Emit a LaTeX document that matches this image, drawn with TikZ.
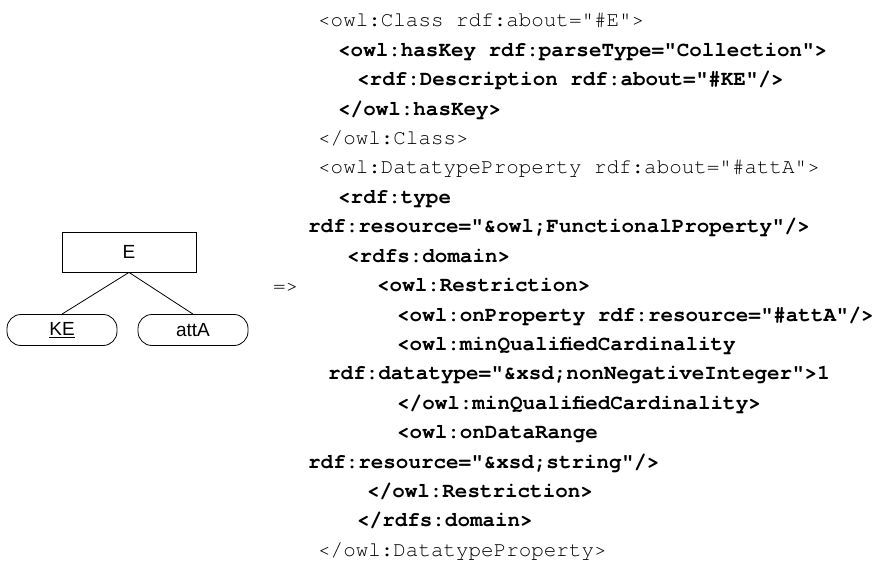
\documentclass[tikz,border=0pt]{standalone}
\usepackage{fontspec}
\setmainfont{Liberation Sans}
\setmonofont{TeX Gyre Cursor}
\begin{document}
\begin{tikzpicture}[x=1pt,y=-1pt,
	code/.style={anchor=west,inner sep=0pt,text height=14pt,text depth=4pt,font=\ttfamily\fontsize{20.9}{21}\selectfont},
	bcode/.style={code,font=\ttfamily\bfseries\fontsize{20.9}{21}\selectfont},
	entbox/.style={draw,line width=.8pt,minimum width=134pt,minimum height=40pt,inner sep=0pt,font=\fontsize{19}{19}\selectfont},
	attrbox/.style={draw,line width=.8pt,rounded corners=14pt,minimum width=110pt,minimum height=31pt,inner sep=0pt,font=\fontsize{19}{19}\selectfont}]
	\useasboundingbox (0,0) rectangle (880,585);
	% ER fragment
	\node[entbox] (E) at (129,252) {E};
	\node[attrbox] (KE) at (62,330) {\underline{KE}};
	\node[attrbox] (attA) at (193,330) {attA};
	\draw[line width=.8pt] (E.south)--(KE.north)
	(E.south)--(attA.north);
	\node[code] (arrow) at (273,287) {=>};
	% OWL listing
	\node[code] (l1) at (318,22) {<owl:Class rdf:about="\#E">};
	\node[bcode] (l2) at (338,51.4) {<owl:hasKey rdf:parseType="Collection">};
	\node[bcode] (l3) at (357,80.8) {<rdf:Description rdf:about="\#KE"/>};
	\node[bcode] (l4) at (338,110.2) {</owl:hasKey>};
	\node[code] (l5) at (318,139.6) {</owl:Class>};
	\node[code] (l6) at (318,169) {<owl:DatatypeProperty rdf:about="\#attA">};
	\node[bcode] (l7) at (338,198.4) {<rdf:type};
	\node[bcode] (l8) at (308,227.8) {rdf:resource="\&owl;FunctionalProperty"/>};
	\node[bcode] (l9) at (347,257.2) {<rdfs:domain>};
	\node[bcode] (l10) at (377,286.6) {<owl:Restriction>};
	\node[bcode] (l11) at (397,316) {<owl:onProperty rdf:resource="\#attA"/>};
	\node[bcode] (l12) at (397,345.4) {<owl:minQualifiedCardinality};
	\node[bcode] (l13) at (328,374.8) {rdf:datatype="\&xsd;nonNegativeInteger">1};
	\node[bcode] (l14) at (397,404.2) {</owl:minQualifiedCardinality>};
	\node[bcode] (l15) at (397,433.6) {<owl:onDataRange};
	\node[bcode] (l16) at (308,463) {rdf:resource="\&xsd;string"/>};
	\node[bcode] (l17) at (367,492.4) {</owl:Restriction>};
	\node[bcode] (l18) at (357,521.8) {</rdfs:domain>};
	\node[code] (l19) at (318,551.2) {</owl:DatatypeProperty>};
\end{tikzpicture}
\end{document}
